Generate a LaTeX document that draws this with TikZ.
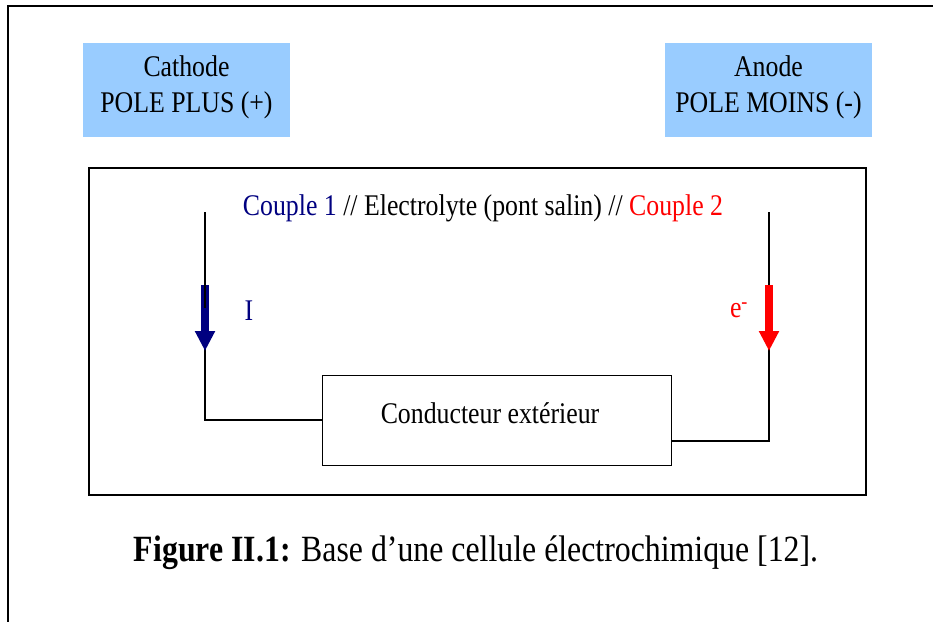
\documentclass[tikz,border=0pt]{standalone}
\usepackage{fontspec}
\setmainfont[FakeStretch=0.86]{Liberation Serif}
\usetikzlibrary{arrows.meta}
\definecolor{boxblue}{HTML}{99CCFF}
\definecolor{navy}{HTML}{000080}
\definecolor{redc}{HTML}{FF0000}
\tikzset{
  polebox/.style={fill=boxblue, draw=none, minimum width=207pt, minimum height=94pt, inner sep=0pt},
  poletext/.style={align=center, font=\fontsize{30}{36}\selectfont, inner sep=0pt},
  frameline/.style={line width=2pt, black},
  wire/.style={line width=1.6pt, black},
  curarrow/.style={line width=8pt, -{Triangle[length=20pt,width=19pt]}},
  lbl/.style={font=\fontsize{30}{36}\selectfont, inner sep=0pt},
}
\begin{document}
\begin{tikzpicture}[x=1pt,y=-1pt]
\useasboundingbox (0,0) rectangle (933,622);
% outer page frame
\coordinate (pgtl) at (8,6);
\coordinate (pgtr) at (933,6);
\coordinate (pgbl) at (8,622);
\draw[frameline] (pgtr) -- (pgtl) -- (pgbl);
% pole boxes
\node[polebox] (cath) at (186.5,90) {};
\node[poletext] (cathtxt) at (186.5,87) {Cathode\\POLE PLUS (+)};
\node[polebox] (anod) at (768.5,90) {};
\node[poletext] (anodtxt) at (768.5,87) {Anode\\POLE MOINS (-)};
% main frame
\node[draw, line width=2pt, minimum width=777pt, minimum height=327pt, inner sep=0pt] (frame) at (477.5,331.5) {};
% top text
\node[lbl] (couple) at (483,208) {\textcolor{navy}{Couple 1} // Electrolyte (pont salin) // \textcolor{redc}{Couple 2}};
% conductor box
\node[draw, line width=1pt, minimum width=349pt, minimum height=90pt, inner sep=0pt] (cond) at (496.5,420) {};
\node[lbl] (condtxt) at (490,413) {Conducteur extérieur};
% wires
\coordinate (lt) at (205,212);
\coordinate (rt) at (769,212);
\coordinate (ra) at (671,441);
\draw[wire] (lt) |- (cond.west);
\draw[wire] (rt) |- (ra);
% arrows
\coordinate (la1) at (205,285);
\coordinate (la2) at (205,351);
\coordinate (ra1) at (769,285);
\coordinate (ra2) at (769,351);
\draw[curarrow, navy] (la1) -- (la2);
\draw[curarrow, redc] (ra1) -- (ra2);
\coordinate (lmid) at (205,308);
\draw[wire] (la1) -- (lmid);
% labels
\node[lbl, text=navy] (ilab) at (249,311) {I};
\node[lbl, text=redc] (elab) at (739,310) {e\textsuperscript{-}};
% caption
\node[inner sep=0pt, font=\fontsize{37}{44}\selectfont] (cap) at (476,553) {\textbf{Figure II.1:} Base d’une cellule électrochimique [12].};
\end{tikzpicture}
\end{document}
